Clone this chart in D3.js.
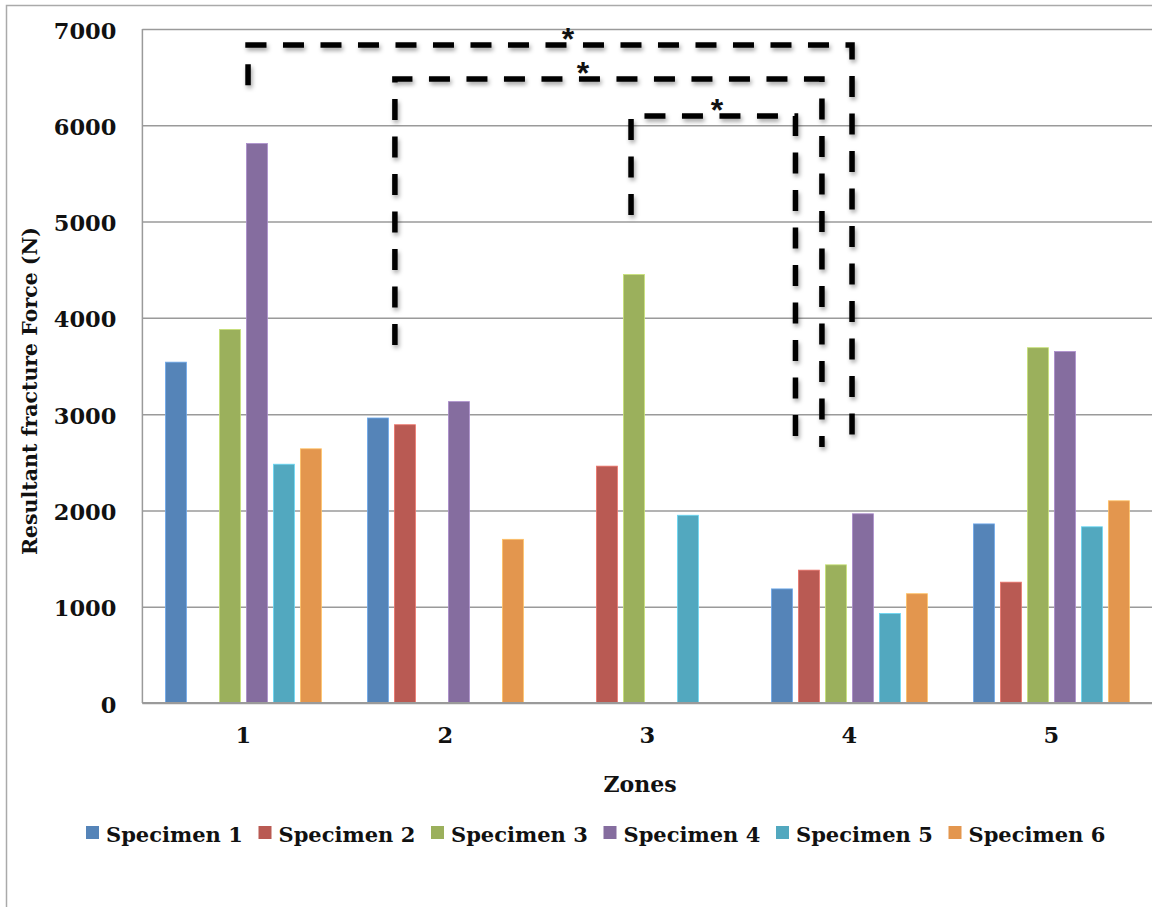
<!DOCTYPE html>
<html>
<head>
<meta charset="utf-8">
<script src="https://cdn.jsdelivr.net/npm/d3@7"></script>
<style>
  body { margin: 0; background: #fff; }
  svg text { font-family: "DejaVu Serif", serif; font-weight: bold; fill: #111; }
</style>
</head>
<body>
<div id="wrapper"></div>
<script>
// values
const zones = ["1", "2", "3", "4", "5"];
const specimens = ["Specimen 1", "Specimen 2", "Specimen 3", "Specimen 4", "Specimen 5", "Specimen 6"];
const specimen1 = [3540, 2960, null, 1185, 1860];
const specimen2 = [null, 2890, 2460, 1380, 1255];
const specimen3 = [3880, null, 4450, 1435, 3690];
const specimen4 = [5810, 3130, null, 1965, 3650];
const specimen5 = [2480, null, 1950, 930, 1830];
const specimen6 = [2640, 1700, null, 1135, 2100];
const meanForce = [3630, 2650, 2920, 1255, 2420];
const yTicks = [0, 1000, 2000, 3000, 4000, 5000, 6000, 7000];

// significance brackets: zone positions (fractional) and force levels
const brackets = [
    { x1: 1.023, x2: 4.013, top: 6833, end1: 6417, end2: 2617, star: 2.607 },
    { x1: 1.75, x2: 3.864, top: 6480, end1: 3718, end2: 2658, star: 2.681 },
    { x1: 2.919, x2: 3.733, top: 6096, end1: 5067, end2: 2700, star: 3.344 }
];

const colors = ["#5584b8", "#b95a53", "#9bb05c", "#856d9f", "#52a8bf", "#e3964e"];
const meanShift = [-1, -13, -15, -8, -20];

const series = [specimen1, specimen2, specimen3, specimen4, specimen5, specimen6];

const width = 1152, height = 907;
const dims = { left: 142.4, right: 1152.4, top: 29, bottom: 703 };

const svg = d3.select("#wrapper").append("svg")
    .attr("width", width)
    .attr("height", height);

const defs = svg.append("defs");
defs.append("filter").attr("id", "shadow")
    .attr("x", "-10%").attr("y", "-50%").attr("width", "130%").attr("height", "300%")
    .append("feDropShadow")
    .attr("dx", 1.5).attr("dy", 3).attr("stdDeviation", 2)
    .attr("flood-color", "#000").attr("flood-opacity", 0.35);

// outer border
svg.append("path")
    .attr("d", `M6.5,${height} V5.5 H${width}`)
    .attr("fill", "none").attr("stroke", "#aaa").attr("stroke-width", 1.5);

const x0 = d3.scaleBand().domain(zones).range([dims.left, dims.right])
    .paddingInner(0.208).paddingOuter(0.104);
const x1 = d3.scaleBand().domain(d3.range(6)).range([2, x0.bandwidth() - 2]).paddingInner(0.222);
const y = d3.scaleLinear().domain([0, 7000]).range([dims.bottom, dims.top]);
const zoneX = d3.scaleLinear().domain([1, 2])
    .range([x0("1") + x0.bandwidth() / 2, x0("2") + x0.bandwidth() / 2]);

// gridlines + y labels
const yAxis = svg.append("g")
    .attr("transform", `translate(${dims.left},0)`)
    .call(d3.axisLeft(y).tickValues(yTicks).tickFormat(d3.format("d"))
        .tickSize(-(dims.right - dims.left)).tickPadding(26));
yAxis.select(".domain").remove();
yAxis.selectAll(".tick line").attr("stroke", "#9a9a9a").attr("stroke-width", 1.5);
yAxis.selectAll(".tick text")
    .attr("font-size", 22.5)
    .attr("dy", "0.4em");

svg.append("line")
    .attr("x1", dims.left).attr("x2", dims.left)
    .attr("y1", dims.top).attr("y2", dims.bottom)
    .attr("stroke", "#9a9a9a").attr("stroke-width", 1.5);

// x labels
const xAxis = svg.append("g")
    .attr("transform", `translate(0,${dims.bottom})`)
    .call(d3.axisBottom(x0).tickSize(0).tickPadding(26));
xAxis.select(".domain").remove();
xAxis.selectAll(".tick text").attr("font-size", 22.5).attr("dy", "0.6em");

// bars
const groups = svg.append("g").selectAll("g")
    .data(zones)
    .join("g")
    .attr("transform", d => `translate(${x0(d)},0)`);

groups.selectAll("rect")
    .data((z, i) => series.map((s, k) => ({ k: k, v: s[i] })).filter(d => d.v != null))
    .join("rect")
    .attr("x", d => x1(d.k))
    .attr("width", x1.bandwidth())
    .attr("y", d => y(d.v))
    .attr("height", d => y(0) - y(d.v))
    .attr("fill", d => colors[d.k])
    .attr("stroke", d => d3.color(colors[d.k]).brighter(0.7))
    .attr("stroke-width", 0.8);

// zero line on top of bars
svg.append("line")
    .attr("x1", dims.left).attr("x2", dims.right)
    .attr("y1", y(0)).attr("y2", y(0))
    .attr("stroke", "#9a9a9a").attr("stroke-width", 2);

// mean lines
svg.append("g").selectAll("line")
    .data(meanForce)
    .join("line")
    .attr("x1", (d, i) => x0(zones[i]) + x0.bandwidth() / 2 + meanShift[i] - 90)
    .attr("x2", (d, i) => x0(zones[i]) + x0.bandwidth() / 2 + meanShift[i] + 90)
    .attr("y1", d => y(d))
    .attr("y2", d => y(d))
    .attr("stroke", "#cf6860")
    .attr("stroke-width", 5)
    .attr("filter", "url(#shadow)");

// significance brackets
const line = d3.line();
svg.append("g").selectAll("path")
    .data(brackets)
    .join("path")
    .attr("d", b => line([
        [zoneX(b.x1), y(b.end1)], [zoneX(b.x1), y(b.top)],
        [zoneX(b.x2), y(b.top)], [zoneX(b.x2), y(b.end2)]
    ]))
    .attr("fill", "none")
    .attr("stroke", "#000")
    .attr("stroke-width", 5.5)
    .attr("stroke-dasharray", "21,16.5")
    .attr("filter", "url(#shadow)");

svg.append("g").selectAll("text")
    .data(brackets)
    .join("text")
    .attr("x", b => zoneX(b.star))
    .attr("y", b => y(b.top) + 5)
    .attr("text-anchor", "middle")
    .style("font-family", "'Liberation Sans', sans-serif")
    .attr("font-size", 32)
    .text("*");

// axis titles
svg.append("text")
    .attr("transform", `translate(37,${(dims.top + dims.bottom) / 2 + 25}) rotate(-90)`)
    .attr("text-anchor", "middle")
    .attr("font-size", 20.5)
    .text("Resultant fracture Force (N)");

svg.append("text")
    .attr("x", 640)
    .attr("y", 792)
    .attr("text-anchor", "middle")
    .attr("font-size", 22)
    .text("Zones");

// legend
const legend = svg.append("g").selectAll("g")
    .data(specimens)
    .join("g")
    .attr("transform", (d, i) => `translate(${86 + i * 172.5},826)`);
legend.append("rect")
    .attr("width", 13).attr("height", 13)
    .attr("fill", (d, i) => colors[i]);
legend.append("text")
    .attr("x", 20).attr("y", 16)
    .attr("font-size", 21)
    .text(d => d);
</script>
</body>
</html>
